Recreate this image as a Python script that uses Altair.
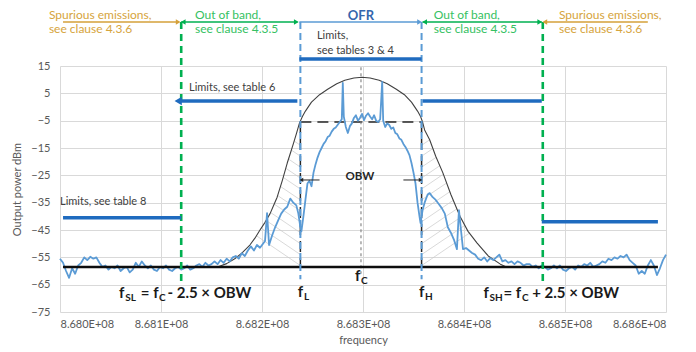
import altair as alt
import pandas as pd

F0 = 868_000_000   # Hz at the left end of the axis
KHZ = 1000

# ---------------- data (frequency offsets in kHz from 868.0 MHz, power in dBm) ----------------
noise_left_khz = list(range(0, 160, 3))
noise_left_db = [-55.5, -57, -60, -62.5, -59, -61, -58, -57, -55, -56,
                 -54.8, -55.5, -55, -57, -58.5, -58, -59.5, -58.5, -59, -58,
                 -60, -59, -58.5, -60.5, -59.5, -57, -58.5, -56.5, -58, -59,
                 -58, -59.5, -60, -58.5, -59, -58, -59.5, -60, -59, -58.5,
                 -59.5, -59, -58, -59.5, -59, -58, -57.5, -58.5, -57, -58,
                 -57.5, -56.5, -57.5, -56]

signal_khz = [162, 165, 168, 171, 174, 177, 180, 183, 186, 189,
              192, 195, 198, 201, 203, 205, 207, 210, 213, 216,
              219, 222, 225, 228, 231, 234, 236, 238, 239, 241,
              243, 245, 247, 249, 251, 253, 255, 257, 259, 261,
              263, 265, 267, 269, 271, 273, 275, 277, 279, 280,
              281, 283, 285, 287, 289, 291, 293, 295, 297, 299,
              301, 303, 305, 307, 309, 311, 313, 315, 317, 319,
              320, 322, 324, 326, 328, 330, 332, 334, 336, 338,
              340, 342, 344, 346, 348, 350, 352, 354, 356, 357,
              359, 361, 364, 366, 369, 372, 375, 378, 381, 384,
              387, 390, 393, 395, 397, 399, 402, 405, 408, 411,
              414, 417, 420, 423, 426, 429, 432, 435, 438, 441,
              444, 447, 450, 453, 456, 459]
signal_db = [-57, -55.5, -56.5, -55, -54.5, -55.5, -53.5, -54.5, -52.5, -51,
             -52.5, -50.5, -51.5, -50, -49, -38.8, -50.5, -47, -44, -41.5,
             -39, -37.5, -36.5, -33.5, -35, -36, -39, -44, -45.5, -40,
             -34, -28, -27, -29, -24, -21, -18.5, -16.5, -15, -13.5,
             -12.5, -11, -10.5, -9, -8, -7.5, -6.5, -5.5, -4.5, 8.8,
             -3.5, -7.3, -9.5, -7, -6, -4, -3, -5, -4, -2.5,
             -4.8, -3.2, -2.3, -3.5, -4.5, -3, -5, -5.5, -4.5, 9.2,
             -5, -7.3, -6, -6.6, -8, -7.5, -9.5, -10, -11.5, -12,
             -13.5, -14.6, -16, -17.6, -20.5, -24, -28, -35, -40.2, -42.5,
             -37.7, -35, -32, -31.5, -33, -34, -35.5, -37, -39, -44,
             -46, -48.5, -52, -37.7, -45, -52, -51.6, -52.5, -53.4, -54,
             -55.5, -56, -55, -56.5, -55.3, -56, -55, -54, -56.5, -56,
             -57, -56.5, -57.5, -56.5, -57, -58]

noise_right_khz = list(range(462, 601, 3))
noise_right_db = [-57.5, -57.5, -58.5, -58, -59, -58, -58.5, -59.5, -59, -58,
                  -59, -58, -59.5, -60, -59, -58.5, -59.5, -58, -58.5, -57.5,
                  -58, -57, -58.5, -58, -57.5, -56.5, -57, -55.5, -56, -55,
                  -55.5, -54.5, -55, -54, -56, -57, -58, -61, -60, -61,
                  -58, -56, -58, -61.5, -59, -56, -54]

envelope_khz = [156, 165, 173, 180, 188, 193, 198, 203, 208, 212, 215, 220, 225, 228,
                231, 234, 237, 240, 243, 249, 257, 265, 274, 282, 291, 299, 307, 316,
                324, 333, 341, 348, 354, 357, 359, 361, 366, 372, 379, 387, 396, 404,
                413, 424, 436, 442]
envelope_db = [-58.5, -57.3, -55.5, -53.5, -50.5, -48, -45, -42.2, -39, -35.6, -33, -27,
               -20.5, -17, -13.5, -9.8, -6, -3.5, -1.5, 1.8, 4.5, 6.5, 8.5, 9.8, 10.6,
               10.9, 10.6, 9.8, 8.5, 6.5, 4.5, 1.8, -1.5, -3.5, -5.5, -8.4, -12, -18,
               -24, -32, -40, -45.5, -49.8, -54.5, -57.5, -58.5]

# hatching between envelope and f_L / f_H
hatch_left_env_khz = [232, 229, 226.5, 223.5, 221, 218, 215.5, 212, 208.5, 204, 199, 194.5]
hatch_left_env_db = [-12.5, -15.75, -19.1, -22.4, -25.75, -29, -32.4, -35.5, -38.6, -41.5, -44.25, -47.1]
hatch_left_fl_db = [-14, -18, -22, -26, -30, -34, -38, -42, -46, -50, -54, -58]
hatch_right_env_khz = [366, 369, 372.5, 376, 379.5, 383, 386, 389.5, 393, 396.5, 401, 405.5]
hatch_right_env_db = [-12, -15.25, -18.4, -21.5, -24.6, -27.75, -31, -34.1, -37.25, -40.4, -43.25, -46.1]
hatch_right_fh_db = [-14, -18, -22, -26, -30, -34, -38, -42, -46, -50, -54, -58]

# key frequencies (kHz offsets)
f_sl, f_l, f_c, f_h, f_sh = 120, 238, 298, 358, 478
obw_level_db = -5.5
baseline_db = -58.5
baseline_khz = [3, 592]

# limit lines
limit_start_khz = [3, 118, 237, 359, 477]
limit_end_khz = [120, 235, 358, 477, 592]
limit_db = [-40.5, 2.2, 17.6, 2.2, -42]

# band arrows across the top
band_arrow_db = 31.1
spurious_left_khz = [3, 117]
oob_left_khz = [120, 235]
ofr_khz = [237, 356]
oob_right_khz = [359, 477]
spurious_right_khz = [480, 582]

obw_arrow_db = -26.7
obw_left_khz = [257, 239]
obw_right_khz = [340, 357]

x_ticks_khz = [0, 100, 200, 300, 400, 500, 600]
y_ticks = [-75, -65, -55, -45, -35, -25, -15, -5, 5, 15]

# ---------------- scales / axes ----------------
FONT = "Lato"
XSCALE = alt.Scale(domain=[F0, F0 + 600 * KHZ], nice=False, zero=False)
YSCALE = alt.Scale(domain=[-75, 15], nice=False, zero=False)
XAXIS = alt.Axis(values=[F0 + k * KHZ for k in x_ticks_khz],
                 labelExpr="format(datum.value/1e8,'.3f')+'E+08'",
                 title="frequency", grid=True, gridColor="#d9d9d9", domain=False, ticks=False,
                 labelColor="#595959", labelFont=FONT, labelFontSize=11, labelPadding=6,
                 titleFont=FONT, titleFontSize=11, titleFontWeight="normal", titleColor="#595959",
                 titlePadding=5)
YAXIS = alt.Axis(values=y_ticks, title="Output power dBm", grid=True, gridColor="#d9d9d9",
                 domain=False, ticks=False, labelColor="#595959", labelFont=FONT, labelFontSize=11,
                 labelPadding=10, titleFont=FONT, titleFontSize=11, titleFontWeight="normal",
                 titleColor="#595959", titlePadding=8)


def hz(k):
    return F0 + k * KHZ


def xenc(field="f"):
    return alt.X(f"{field}:Q", scale=XSCALE, axis=XAXIS)


def yenc(field="p"):
    return alt.Y(f"{field}:Q", scale=YSCALE, axis=YAXIS)


def segments(k1, p1, k2, p2, color, width, dash=None, opacity=1.0):
    df = pd.DataFrame({"f": [hz(k) for k in k1], "p": p1, "f2": [hz(k) for k in k2], "p2": p2})
    kw = dict(color=color, strokeWidth=width, opacity=opacity)
    if dash:
        kw["strokeDash"] = dash
    return alt.Chart(df).mark_rule(**kw).encode(x=xenc(), y=yenc(), x2="f2:Q", y2="p2:Q")


def line(ks, ps, color, width):
    df = pd.DataFrame({"f": [hz(k) for k in ks], "p": ps, "i": list(range(len(ks)))})
    return alt.Chart(df).mark_line(color=color, strokeWidth=width, strokeJoin="round").encode(
        x=xenc(), y=yenc(), order="i:Q")


def heads(ks, ps, shape, color, size):
    df = pd.DataFrame({"f": [hz(k) for k in ks], "p": ps})
    return alt.Chart(df).mark_point(shape=shape, filled=True, color=color, size=size,
                                    opacity=1, strokeWidth=0).encode(x=xenc(), y=yenc())


def label(text, k, p, size=11, color="#404040", weight="normal", align="left"):
    df = pd.DataFrame({"f": [hz(k)], "p": [p], "t": [text]})
    return alt.Chart(df).mark_text(align=align, baseline="middle", fontSize=size,
                                   fontWeight=weight, color=color, font=FONT).encode(
        x=xenc(), y=yenc(), text="t:N")


layers = []

# hatching
layers.append(segments(hatch_left_env_khz, hatch_left_env_db, [f_l] * len(hatch_left_fl_db),
                       hatch_left_fl_db, "#c8c8c8", 0.7))
layers.append(segments([f_h] * len(hatch_right_fh_db), hatch_right_fh_db, hatch_right_env_khz,
                       hatch_right_env_db, "#c8c8c8", 0.7))

# envelope
layers.append(line(envelope_khz, envelope_db, "#404040", 1.1))

# black dashed OBW box
layers.append(segments([f_l], [obw_level_db], [f_h], [obw_level_db], "#262626", 1.5, dash=[11, 6]))
layers.append(segments([f_l, f_h], [obw_level_db, obw_level_db], [f_l, f_h], [baseline_db, baseline_db],
                       "#262626", 1.5, dash=[11, 6]))
# f_c dotted
layers.append(segments([f_c], [14.5], [f_c], [-61], "#7f7f7f", 1.1, dash=[3, 3]))

# spectrum
spec_k = noise_left_khz + signal_khz + noise_right_khz
spec_p = noise_left_db + signal_db + noise_right_db
layers.append(line(spec_k, spec_p, "#5b9bd5", 1.8))

# baseline
layers.append(segments([baseline_khz[0]], [baseline_db], [baseline_khz[1]], [baseline_db], "#0d0d0d", 2.5))

# blue dashed f_L / f_H
layers.append(segments([f_l, f_h], [band_arrow_db, band_arrow_db], [f_l, f_h], [-63, -63],
                       "#5b9bd5", 2, dash=[7, 4]))
# green dashed
layers.append(segments([f_sl, f_sh], [band_arrow_db, band_arrow_db], [f_sl, f_sh], [-64.5, -64.5],
                       "#00b050", 2.6, dash=[7, 5]))

# limit lines
layers.append(segments(limit_start_khz, limit_db, limit_end_khz, limit_db, "#1f6bbf", 3.5))
layers.append(heads([limit_start_khz[1] - 1], [limit_db[1]], "triangle-left", "#1f6bbf", 70))

# band arrows on top
ORANGE = "#d4a03a"
GREEN = "#00b050"
BLUE = "#5b9bd5"
layers.append(segments([spurious_left_khz[0]], [band_arrow_db], [spurious_left_khz[1]], [band_arrow_db], ORANGE, 1.6))
layers.append(segments([spurious_right_khz[0]], [band_arrow_db], [spurious_right_khz[1]], [band_arrow_db], ORANGE, 1.6))
layers.append(segments([oob_left_khz[0], oob_right_khz[0]], [band_arrow_db] * 2,
                       [oob_left_khz[1], oob_right_khz[1]], [band_arrow_db] * 2, GREEN, 1.6))
layers.append(segments([ofr_khz[0]], [band_arrow_db], [ofr_khz[1]], [band_arrow_db], BLUE, 1.6))
layers.append(heads([spurious_left_khz[1]], [band_arrow_db], "triangle-right", ORANGE, 30))
layers.append(heads([spurious_right_khz[0]], [band_arrow_db], "triangle-left", ORANGE, 30))
layers.append(heads([oob_left_khz[0] + 2, oob_right_khz[0] + 2], [band_arrow_db] * 2, "triangle-left", GREEN, 30))
layers.append(heads([oob_left_khz[1] - 1, oob_right_khz[1] - 2], [band_arrow_db] * 2, "triangle-right", GREEN, 30))
layers.append(heads([ofr_khz[1]], [band_arrow_db], "triangle-right", BLUE, 30))

# OBW arrows
layers.append(segments([obw_left_khz[0], obw_right_khz[0]], [obw_arrow_db] * 2,
                       [obw_left_khz[1], obw_right_khz[1]], [obw_arrow_db] * 2, "#262626", 1))
layers.append(heads([obw_left_khz[1]], [obw_arrow_db], "triangle-left", "#262626", 18))
layers.append(heads([obw_right_khz[1]], [obw_arrow_db], "triangle-right", "#262626", 18))

# ---------------- texts ----------------
TXT_ORANGE = "#d6a43c"
TXT_GREEN = "#35c162"
layers += [
    label("Spurious emissions,", -11, 33.7, 12, TXT_ORANGE),
    label("see clause 4.3.6", -11, 28.7, 12, TXT_ORANGE),
    label("Spurious emissions,", 494, 33.7, 12, TXT_ORANGE),
    label("see clause 4.3.6", 494, 28.7, 12, TXT_ORANGE),
    label("Out of band,", 133.6, 33.7, 12, TXT_GREEN),
    label("see clause 4.3.5", 133.6, 28.6, 12, TXT_GREEN),
    label("Out of band,", 370, 33.7, 12, TXT_GREEN),
    label("see clause 4.3.5", 370, 28.6, 12, TXT_GREEN),
    label("OFR", 298, 33.2, 13, "#3466ad", "bold", "center"),
    label("Limits,", 254.4, 26, 11),
    label("see tables 3 & 4", 254.4, 20.5, 11),
    label("Limits, see table 6", 127.7, 7, 11),
    label("Limits, see table 8", 0, -34.8, 11),
    label("OBW", 297, -25.6, 11.5, "#262626", "bold", "center"),
    # f_L, f_C, f_H
    label("f", 235.5, -67.5, 15, "#1a1a1a", "bold"),
    label("L", 241.5, -69.5, 10, "#1a1a1a", "bold"),
    label("f", 292, -61.8, 15, "#1a1a1a", "bold"),
    label("C", 298, -63.8, 10, "#1a1a1a", "bold"),
    label("f", 355.4, -67.5, 15, "#1a1a1a", "bold"),
    label("H", 361.4, -69.5, 10, "#1a1a1a", "bold"),
    # f_SL formula
    label("f", 58.4, -68, 15, "#1a1a1a", "bold"),
    label("SL", 64.5, -70, 10, "#1a1a1a", "bold"),
    label("= f", 80.0, -68, 15, "#1a1a1a", "bold"),
    label("C", 98.0, -70, 10, "#1a1a1a", "bold"),
    label("- 2.5 × OBW", 106.4, -68, 15, "#1a1a1a", "bold"),
    # f_SH formula
    label("f", 419.3, -68, 15, "#1a1a1a", "bold"),
    label("SH", 425.2, -70, 10, "#1a1a1a", "bold"),
    label("= f", 439.1, -68, 15, "#1a1a1a", "bold"),
    label("C", 457.5, -70, 10, "#1a1a1a", "bold"),
    label("+ 2.5 × OBW", 467.5, -68, 15, "#1a1a1a", "bold"),
]

chart = alt.layer(*layers).properties(
    width=606, height=246,
    autosize=alt.AutoSizeParams(type="none"),
    padding={"left": 52, "top": 58, "right": 22, "bottom": 40},
    background="white",
).configure_view(stroke=None)

chart.save("out.html", embed_options={"renderer": "svg", "actions": False})
